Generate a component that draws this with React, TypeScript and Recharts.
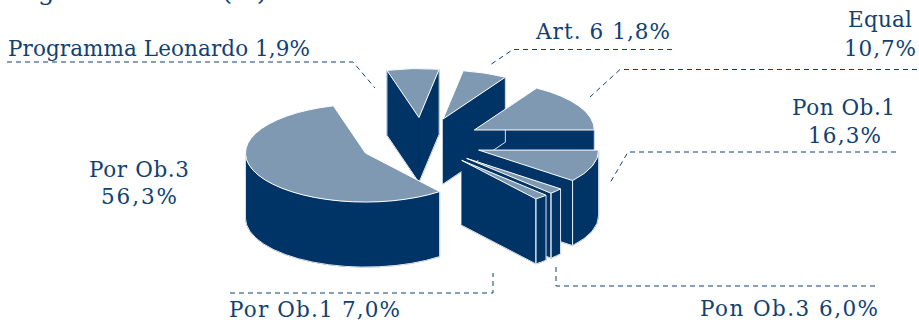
import React from 'react';
import { PieChart, Pie } from 'recharts';

// Funding sources, in the clockwise order the slices are drawn
const sliceNames = ['Por Ob.1', 'Pon Ob.3', 'Pon Ob.1', 'Equal', 'Programma Leonardo', 'Art. 6', 'Por Ob.3'];
const sliceShares = [7.0, 6.0, 16.3, 10.7, 1.9, 1.8, 56.3];
const rows = sliceNames.map((name, i) => ({ name, value: sliceShares[i] }));

const DARK = '#003366';
const LIGHT = '#7f99b2';
const INK = '#0f4173';
const FONT = '"DejaVu Serif", serif';

const CX = 422;
const CY = 142;
const RX = 120;
const TILT = 49 / 120;
const DEPTH = 65;
const EXPLODE = 0.5;
const SLICE_NUDGE: Record<string, [number, number]> = { 'Por Ob.3': [-3, 0] };

type Lbl = {
  lines: { text: string; x: number; y: number; w: number }[];
  leader: [number, number][];
};

const pct = (v: number) => v.toFixed(1).replace('.', ',') + '%';

const labelLayout: Record<string, (v: number) => Lbl> = {
  'Programma Leonardo': (v) => ({
    lines: [{ text: `Programma Leonardo ${pct(v)}`, x: 8, y: 56, w: 302 }],
    leader: [[7, 62], [353, 62], [375, 88]],
  }),
  'Art. 6': (v) => ({
    lines: [{ text: `Art. 6 ${pct(v)}`, x: 536, y: 39, w: 134 }],
    leader: [[672, 49.5], [513, 49.5], [490, 65]],
  }),
  Equal: (v) => ({
    lines: [
      { text: 'Equal', x: 848, y: 27, w: 64 },
      { text: pct(v), x: 844, y: 56, w: 72 },
    ],
    leader: [[917, 69.5], [620, 69.5], [590, 97]],
  }),
  'Pon Ob.1': (v) => ({
    lines: [
      { text: 'Pon Ob.1', x: 792, y: 115, w: 103 },
      { text: pct(v), x: 808, y: 143, w: 73 },
    ],
    leader: [[896, 152], [628, 152], [610, 183]],
  }),
  'Por Ob.3': (v) => ({
    lines: [
      { text: 'Por Ob.3', x: 89, y: 177, w: 100 },
      { text: pct(v), x: 101, y: 204, w: 76 },
    ],
    leader: [],
  }),
  'Por Ob.1': (v) => ({
    lines: [{ text: `Por Ob.1 ${pct(v)}`, x: 229, y: 317, w: 171 }],
    leader: [[230, 293], [493, 293], [493, 273]],
  }),
  'Pon Ob.3': (v) => ({
    lines: [{ text: `Pon Ob.3 ${pct(v)}`, x: 700, y: 316, w: 178 }],
    leader: [[556, 267], [556, 286], [878, 286]],
  }),
};

const rad = (d: number) => (d * Math.PI) / 180;

// Projects a point of the flat pie onto the tilted plane, pushed out from the centre along the slice bisector
function geometry(p: any) {
  const a0 = p.startAngle as number;
  const a1 = p.endAngle as number;
  const mid = rad((a0 + a1) / 2);
  const r = p.outerRadius as number;
  const nudge = SLICE_NUDGE[p.name] ?? [0, 0];
  const ox = p.cx + r * EXPLODE * Math.cos(mid) + nudge[0];
  const oy = p.cy - r * TILT * EXPLODE * Math.sin(mid) + nudge[1];
  const pt = (deg: number) => [ox + r * Math.cos(rad(deg)), oy - r * TILT * Math.sin(rad(deg))] as [number, number];
  return { a0, a1, r, ox, oy, pt };
}

const arc = (r: number, ry: number, to: [number, number], sweep: number, large: number) =>
  `A${r} ${ry} 0 ${large} ${sweep} ${to[0]} ${to[1]}`;

function Walls(p: any) {
  const { a0, a1, r, ox, oy, pt } = geometry(p);
  const ry = r * TILT;
  const s = pt(a0);
  const e = pt(a1);
  const fills: string[] = [];
  const edges: string[] = [];
  if (Math.cos(rad(a0)) < 0) {
    fills.push(`M${ox} ${oy}L${s[0]} ${s[1]}V${s[1] + DEPTH}L${ox} ${oy + DEPTH}Z`);
    edges.push(`M${s[0]} ${s[1]}V${s[1] + DEPTH}L${ox} ${oy + DEPTH}`);
  }
  if (Math.cos(rad(a1)) > 0) {
    fills.push(`M${ox} ${oy}L${e[0]} ${e[1]}V${e[1] + DEPTH}L${ox} ${oy + DEPTH}Z`);
    edges.push(`M${e[0]} ${e[1]}V${e[1] + DEPTH}L${ox} ${oy + DEPTH}`);
  }
  // The rim only shows on the near half of the ellipse, angles -180..0
  const h = Math.min(a0, 0);
  const l = Math.max(a1, -180);
  if (h > l) {
    const a = pt(h);
    const b = pt(l);
    const large = h - l > 180 ? 1 : 0;
    fills.push(`M${a[0]} ${a[1]}${arc(r, ry, b, 1, large)}V${b[1] + DEPTH}${arc(r, ry, [a[0], a[1] + DEPTH], 0, large)}Z`);
    edges.push(`M${a[0]} ${a[1]}V${a[1] + DEPTH}${arc(r, ry, [b[0], b[1] + DEPTH], 1, large)}V${b[1]}`);
  }
  return (
    <g>
      <path d={fills.join('')} fill={DARK} stroke={DARK} strokeWidth={0.5} />
      <path d={edges.join('')} fill="none" stroke="#dfe6ee" strokeWidth={1} />
    </g>
  );
}

function Top(p: any) {
  const { a0, a1, r, ox, oy, pt } = geometry(p);
  const s = pt(a0);
  const e = pt(a1);
  const large = a0 - a1 > 180 ? 1 : 0;
  return (
    <path
      d={`M${ox} ${oy}L${s[0]} ${s[1]}${arc(r, r * TILT, e, 1, large)}Z`}
      fill={LIGHT}
      stroke="#ffffff"
      strokeWidth={1}
      strokeLinejoin="miter"
    />
  );
}

function Callout(p: any) {
  const make = labelLayout[p.name];
  if (!make) return null;
  const l = make(p.value);
  return (
    <g>
      {l.lines.map((t) => (
        <text
          key={t.text}
          x={t.x}
          y={t.y}
          textLength={t.w}
          lengthAdjust="spacing"
          fontFamily={FONT}
          fontSize={21.5}
          fill={INK}
        >
          {t.text}
        </text>
      ))}
      {l.leader.length > 0 && (
        <polyline
          points={l.leader.map((q) => q.join(',')).join(' ')}
          fill="none"
          stroke={INK}
          strokeWidth={1}
          strokeDasharray="5 4"
        />
      )}
    </g>
  );
}

const pieGeometry = {
  data: rows,
  dataKey: 'value',
  nameKey: 'name',
  cx: CX,
  cy: CY,
  innerRadius: 0,
  outerRadius: RX,
  startAngle: 105.5,
  endAngle: -254.5,
  paddingAngle: 0,
  stroke: 'none',
  isAnimationActive: false,
  labelLine: false,
};

export default function App() {
  return (
    <div style={{ position: 'absolute', left: 0, top: 0, width: 919, height: 322, background: '#fff' }}>
      <PieChart width={919} height={322} margin={{ top: 0, right: 0, bottom: 0, left: 0 }}>
        {/* Pon Ob.1 sits behind its neighbour's wall, so its rim goes down first */}
        <Pie {...pieGeometry} shape={(p: any) => (p.name === 'Pon Ob.1' ? <Walls {...p} /> : <g />)} />
        <Pie {...pieGeometry} shape={(p: any) => (p.name === 'Pon Ob.1' ? <g /> : <Walls {...p} />)} />
        <Pie {...pieGeometry} shape={(p: any) => <Top {...p} />} label={(p: any) => <Callout {...p} />} />
        {/* Heading that runs off the top edge */}
        <text x={3} y={0} fontFamily={FONT} fontSize={26} fill={INK}>Reg</text>
        <text x={222} y={0} fontFamily={FONT} fontSize={26} fill={INK}>(%)</text>
      </PieChart>
    </div>
  );
}
